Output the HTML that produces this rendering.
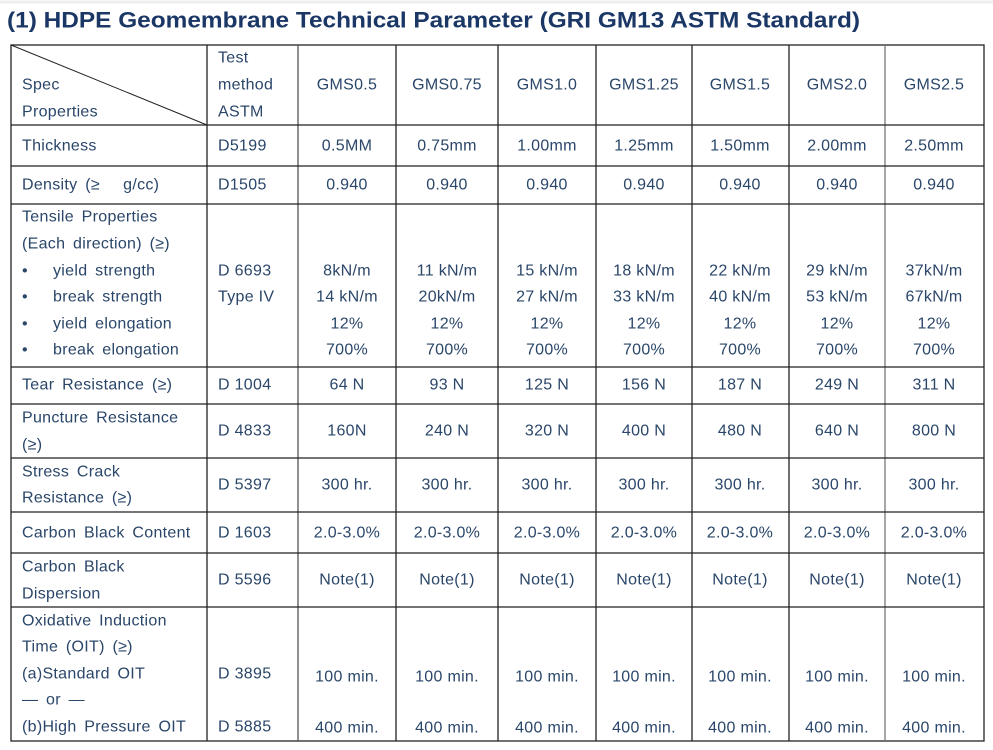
<!DOCTYPE html>
<html><head><meta charset="utf-8"><style>
html,body{margin:0;padding:0;background:#fff;width:993px;height:750px;overflow:hidden}
svg{display:block}
text{font-family:"Liberation Sans",Arial,sans-serif;font-size:16px;letter-spacing:0.3px;fill:#2a4669;dominant-baseline:central}
.c{text-anchor:middle}
.l{word-spacing:3px}
</style></head><body>
<svg width="993" height="750" viewBox="0 0 993 750">
<line x1="0" y1="2" x2="993" y2="2" stroke="#eee" stroke-width="3"/>
<text x="7" y="20" style="font-size:22px;font-weight:bold;fill:#1b3766;letter-spacing:0" textLength="853" lengthAdjust="spacingAndGlyphs">(1) HDPE Geomembrane Technical Parameter (GRI GM13 ASTM Standard)</text>
<g stroke="#222" stroke-width="1.3" fill="none">
<rect x="11" y="45" width="973" height="696"/>
<line x1="11" y1="45" x2="207" y2="125" stroke-width="1"/>
<line x1="207" y1="45" x2="207" y2="741"/>
<line x1="298" y1="45" x2="298" y2="741" stroke="#555"/>
<line x1="396" y1="45" x2="396" y2="741"/>
<line x1="498" y1="45" x2="498" y2="741"/>
<line x1="596" y1="45" x2="596" y2="741"/>
<line x1="692" y1="45" x2="692" y2="741"/>
<line x1="789" y1="45" x2="789" y2="741"/>
<line x1="885" y1="45" x2="885" y2="741" stroke="#777"/>
<line x1="11" y1="125" x2="984" y2="125"/>
<line x1="11" y1="166" x2="984" y2="166"/>
<line x1="11" y1="204" x2="984" y2="204"/>
<line x1="11" y1="367" x2="984" y2="367"/>
<line x1="11" y1="404" x2="984" y2="404"/>
<line x1="11" y1="458" x2="984" y2="458"/>
<line x1="11" y1="512" x2="984" y2="512"/>
<line x1="11" y1="553" x2="984" y2="553"/>
<line x1="11" y1="607" x2="984" y2="607"/>
</g>
<text x="22" y="85">Spec</text><text x="22" y="112">Properties</text>
<text x="218" y="58">Test</text><text x="218" y="85">method</text><text x="218" y="112">ASTM</text>
<text class="c" x="347" y="85">GMS0.5</text><text class="c" x="447" y="85">GMS0.75</text><text class="c" x="547" y="85">GMS1.0</text><text class="c" x="644" y="85">GMS1.25</text><text class="c" x="740" y="85">GMS1.5</text><text class="c" x="837" y="85">GMS2.0</text><text class="c" x="934" y="85">GMS2.5</text>
<text x="22" y="146">Thickness</text><text x="218" y="146">D5199</text>
<text class="c" x="347" y="146">0.5MM</text><text class="c" x="447" y="146">0.75mm</text><text class="c" x="547" y="146">1.00mm</text><text class="c" x="644" y="146">1.25mm</text><text class="c" x="740" y="146">1.50mm</text><text class="c" x="837" y="146">2.00mm</text><text class="c" x="934" y="146">2.50mm</text>
<text class="l" x="22" y="185">Density (≥ &#160; g/cc)</text><text x="218" y="185">D1505</text>
<text class="c" x="347" y="185">0.940</text><text class="c" x="447" y="185">0.940</text><text class="c" x="547" y="185">0.940</text><text class="c" x="644" y="185">0.940</text><text class="c" x="740" y="185">0.940</text><text class="c" x="837" y="185">0.940</text><text class="c" x="934" y="185">0.940</text>
<text class="l" x="22" y="217">Tensile Properties</text><text class="l" x="22" y="244">(Each direction) (≥)</text>
<text x="22" y="271">•</text><text class="l" x="53" y="271">yield strength</text>
<text x="22" y="297">•</text><text class="l" x="53" y="297">break strength</text>
<text x="22" y="324">•</text><text class="l" x="53" y="324">yield elongation</text>
<text x="22" y="350">•</text><text class="l" x="53" y="350">break elongation</text>
<text x="218" y="271">D 6693</text><text x="218" y="297">Type IV</text>
<text class="c" x="347" y="271">8kN/m</text><text class="c" x="447" y="271">11 kN/m</text><text class="c" x="547" y="271">15 kN/m</text><text class="c" x="644" y="271">18 kN/m</text><text class="c" x="740" y="271">22 kN/m</text><text class="c" x="837" y="271">29 kN/m</text><text class="c" x="934" y="271">37kN/m</text>
<text class="c" x="347" y="297">14 kN/m</text><text class="c" x="447" y="297">20kN/m</text><text class="c" x="547" y="297">27 kN/m</text><text class="c" x="644" y="297">33 kN/m</text><text class="c" x="740" y="297">40 kN/m</text><text class="c" x="837" y="297">53 kN/m</text><text class="c" x="934" y="297">67kN/m</text>
<text class="c" x="347" y="324">12%</text><text class="c" x="447" y="324">12%</text><text class="c" x="547" y="324">12%</text><text class="c" x="644" y="324">12%</text><text class="c" x="740" y="324">12%</text><text class="c" x="837" y="324">12%</text><text class="c" x="934" y="324">12%</text>
<text class="c" x="347" y="350">700%</text><text class="c" x="447" y="350">700%</text><text class="c" x="547" y="350">700%</text><text class="c" x="644" y="350">700%</text><text class="c" x="740" y="350">700%</text><text class="c" x="837" y="350">700%</text><text class="c" x="934" y="350">700%</text>
<text class="l" x="22" y="385">Tear Resistance (≥)</text><text x="218" y="385">D 1004</text>
<text class="c" x="347" y="385">64 N</text><text class="c" x="447" y="385">93 N</text><text class="c" x="547" y="385">125 N</text><text class="c" x="644" y="385">156 N</text><text class="c" x="740" y="385">187 N</text><text class="c" x="837" y="385">249 N</text><text class="c" x="934" y="385">311 N</text>
<text class="l" x="22" y="418">Puncture Resistance</text><text x="22" y="445">(≥)</text><text x="218" y="431">D 4833</text>
<text class="c" x="347" y="431">160N</text><text class="c" x="447" y="431">240 N</text><text class="c" x="547" y="431">320 N</text><text class="c" x="644" y="431">400 N</text><text class="c" x="740" y="431">480 N</text><text class="c" x="837" y="431">640 N</text><text class="c" x="934" y="431">800 N</text>
<text class="l" x="22" y="472">Stress Crack</text><text class="l" x="22" y="498">Resistance (≥)</text><text x="218" y="485">D 5397</text>
<text class="c" x="347" y="485">300 hr.</text><text class="c" x="447" y="485">300 hr.</text><text class="c" x="547" y="485">300 hr.</text><text class="c" x="644" y="485">300 hr.</text><text class="c" x="740" y="485">300 hr.</text><text class="c" x="837" y="485">300 hr.</text><text class="c" x="934" y="485">300 hr.</text>
<text class="l" x="22" y="533">Carbon Black Content</text><text x="218" y="533">D 1603</text>
<text class="c" x="347" y="533">2.0-3.0%</text><text class="c" x="447" y="533">2.0-3.0%</text><text class="c" x="547" y="533">2.0-3.0%</text><text class="c" x="644" y="533">2.0-3.0%</text><text class="c" x="740" y="533">2.0-3.0%</text><text class="c" x="837" y="533">2.0-3.0%</text><text class="c" x="934" y="533">2.0-3.0%</text>
<text class="l" x="22" y="567">Carbon Black</text><text x="22" y="594">Dispersion</text><text x="218" y="580">D 5596</text>
<text class="c" x="347" y="580">Note(1)</text><text class="c" x="447" y="580">Note(1)</text><text class="c" x="547" y="580">Note(1)</text><text class="c" x="644" y="580">Note(1)</text><text class="c" x="740" y="580">Note(1)</text><text class="c" x="837" y="580">Note(1)</text><text class="c" x="934" y="580">Note(1)</text>
<text class="l" x="22" y="621">Oxidative Induction</text><text class="l" x="22" y="647">Time (OIT) (≥)</text><text class="l" x="22" y="674">(a)Standard OIT</text><text class="l" x="22" y="700">— or —</text><text class="l" x="22" y="727">(b)High Pressure OIT</text>
<text x="218" y="674">D 3895</text><text x="218" y="727">D 5885</text>
<text class="c" x="347" y="677">100 min.</text><text class="c" x="447" y="677">100 min.</text><text class="c" x="547" y="677">100 min.</text><text class="c" x="644" y="677">100 min.</text><text class="c" x="740" y="677">100 min.</text><text class="c" x="837" y="677">100 min.</text><text class="c" x="934" y="677">100 min.</text>
<text class="c" x="347" y="728">400 min.</text><text class="c" x="447" y="728">400 min.</text><text class="c" x="547" y="728">400 min.</text><text class="c" x="644" y="728">400 min.</text><text class="c" x="740" y="728">400 min.</text><text class="c" x="837" y="728">400 min.</text><text class="c" x="934" y="728">400 min.</text>
</svg>
</body></html>
